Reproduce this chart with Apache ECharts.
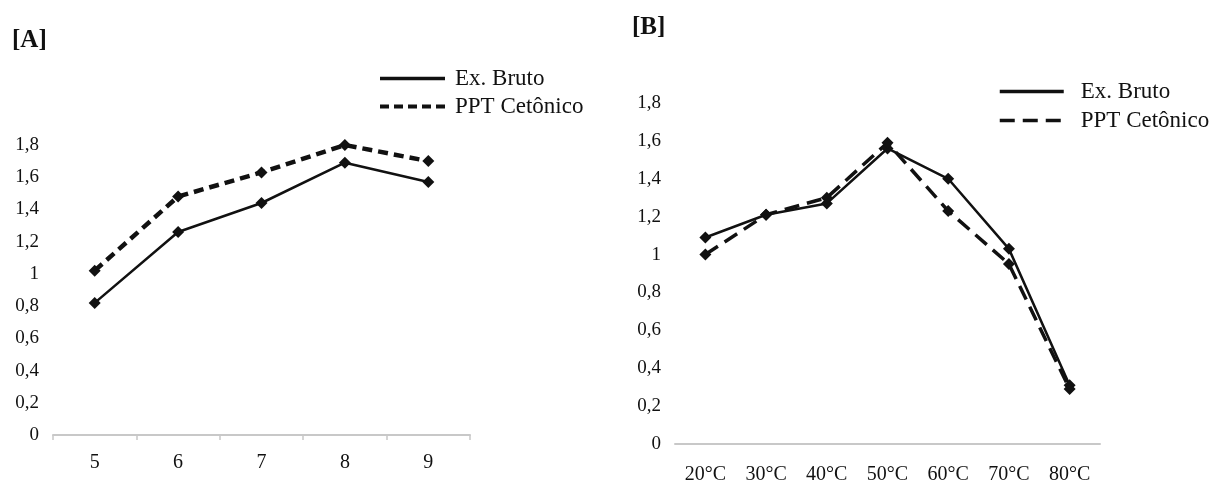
<!DOCTYPE html>
<html><head><meta charset="utf-8">
<script src="https://cdn.jsdelivr.net/npm/echarts@6/dist/echarts.min.js"></script>
<style>html,body{margin:0;padding:0;background:#fff}#c{width:1224px;height:483px}</style>
</head><body><div id="c"></div>
<script>
const catsA = ['5','6','7','8','9'];
const brutoA = [0.82, 1.26, 1.44, 1.69, 1.57];
const pptA = [1.02, 1.48, 1.63, 1.80, 1.70];
const catsB = ['20°C','30°C','40°C','50°C','60°C','70°C','80°C'];
const brutoB = [1.09, 1.21, 1.27, 1.56, 1.40, 1.03, 0.31];
const pptB = [1.00, 1.21, 1.30, 1.59, 1.23, 0.95, 0.29];
const yTicks = ['0','0,2','0,4','0,6','0,8','1','1,2','1,4','1,6','1,8'];
const seriesNames = ['Ex. Bruto','PPT Cetônico'];

const FONT = 'Liberation Serif';
const INK = '#111';
const tickFmt = v => yTicks[Math.round(v / 0.2)] || '';

const chart = echarts.init(document.getElementById('c'));
const yAx = (gi) => ({
  type: 'value', gridIndex: gi, min: 0, max: 1.8, interval: 0.2,
  axisLine: {show: false}, axisTick: {show: false}, splitLine: {show: false},
  axisLabel: {formatter: tickFmt, color: INK, fontFamily: FONT, fontSize: 19, margin: 14}
});
const mk = (name, data, gi, dash, w) => ({
  name, type: 'line', xAxisIndex: gi, yAxisIndex: gi, data,
  symbol: 'diamond', symbolSize: 12,
  itemStyle: {color: INK},
  lineStyle: {color: INK, width: w, type: dash},
  animation: false
});
chart.setOption({
  backgroundColor: '#fff',
  title: [
    {text: '[A]', left: 7, top: 23, textStyle: {fontFamily: FONT, fontWeight: 'bold', fontSize: 25, color: INK}},
    {text: '[B]', left: 627, top: 10, textStyle: {fontFamily: FONT, fontWeight: 'bold', fontSize: 25, color: INK}}
  ],
  grid: [
    {left: 53, width: 417, top: 145, height: 290, containLabel: false, outerBoundsMode: 'none'},
    {left: 675, width: 425, top: 103, height: 341, containLabel: false, outerBoundsMode: 'none'}
  ],
  xAxis: [
    {type: 'category', gridIndex: 0, data: catsA, boundaryGap: true,
     axisLine: {lineStyle: {color: '#c8c8c8', width: 2}},
     axisTick: {show: true, length: 5, inside: false, lineStyle: {color: '#c8c8c8', width: 1.5}},
     axisLabel: {color: INK, fontFamily: FONT, fontSize: 20, margin: 18}},
    {type: 'category', gridIndex: 1, data: catsB, boundaryGap: true,
     axisLine: {lineStyle: {color: '#c8c8c8', width: 2}},
     axisTick: {show: false},
     axisLabel: {color: INK, fontFamily: FONT, fontSize: 20, margin: 21}}
  ],
  yAxis: [yAx(0), yAx(1)],
  legend: [
    {orient: 'vertical', left: 373, top: 62, itemWidth: 65, itemHeight: 14, itemGap: 5,
     data: [
       {name: seriesNames[0], itemStyle: {opacity: 0}, lineStyle: {width: 3.5}},
       {name: seriesNames[1], itemStyle: {opacity: 0}, lineStyle: {width: 4, type: [9, 5]}}
     ],
     textStyle: {fontFamily: FONT, fontSize: 23, color: INK, padding: [0,0,0,5]},
     selectedMode: false},
    {orient: 'vertical', left: 993, top: 75, itemWidth: 64, itemHeight: 14, itemGap: 6,
     data: [
       {name: seriesNames[0] + ' ', itemStyle: {opacity: 0}, lineStyle: {width: 3.5}},
       {name: seriesNames[1] + ' ', itemStyle: {opacity: 0}, lineStyle: {width: 3.5}}
     ],
     textStyle: {fontFamily: FONT, fontSize: 23, color: INK, padding: [0,0,0,12]},
     formatter: n => n.trim(), selectedMode: false}
  ],
  series: [
    mk(seriesNames[0], brutoA, 0, 'solid', 2.5),
    mk(seriesNames[1], pptA, 0, [10, 6], 4.5),
    mk(seriesNames[0] + ' ', brutoB, 1, 'solid', 2.5),
    mk(seriesNames[1] + ' ', pptB, 1, [15, 8], 3.5)
  ]
});
</script>
</body></html>
